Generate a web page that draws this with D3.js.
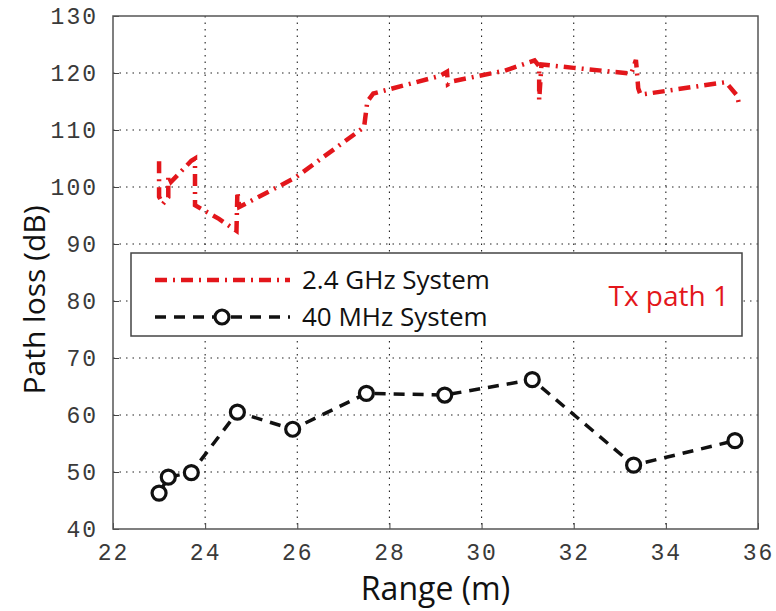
<!DOCTYPE html>
<html>
<head>
<meta charset="utf-8">
<script src="https://cdn.jsdelivr.net/npm/d3@7"></script>
<style>
  html, body { margin: 0; padding: 0; background: #fff; }
  svg { display: block; }
</style>
</head>
<body>
<svg id="chart" width="776" height="611"></svg>
<script>
// Tick values for both axes
const xTicks = [22, 24, 26, 28, 30, 32, 34, 36];
const yTicks = [40, 50, 60, 70, 80, 90, 100, 110, 120, 130];

// 2.4 GHz system: range (m) and path loss (dB), densely sampled trace
const ghzRange = [23.00, 23.00, 23.08, 23.20, 23.20, 23.26, 23.70, 23.78, 23.78, 24.30, 24.68, 24.70, 24.74,
                  25.95, 27.45, 27.52, 27.65, 29.10, 29.25, 29.27, 29.40, 30.50, 31.15, 31.25, 31.25, 31.30,
                  32.00, 33.25, 33.35, 33.37, 33.40, 33.45, 35.30, 35.55, 35.60];
const ghzLoss  = [104.5, 98.3, 97.0, 98.2, 102.0, 100.9, 104.6, 105.0, 96.8, 94.4, 92.3, 99.2, 96.5,
                  101.6, 110.5, 115.0, 116.4, 119.5, 120.2, 118.0, 118.6, 120.4, 122.2, 121.2, 115.3, 121.5,
                  120.9, 119.9, 122.3, 120.5, 117.3, 116.2, 118.4, 116.0, 114.0];

// 40 MHz system: measured points
const mhzRange = [23.0, 23.2, 23.7, 24.7, 25.9, 27.5, 29.2, 31.1, 33.3, 35.5];
const mhzLoss  = [46.3, 49.1, 49.9, 60.5, 57.5, 63.8, 63.5, 66.2, 51.2, 55.5];

const legendLabels = ["2.4 GHz System", "40 MHz System"];
const annotation = "Tx path 1";

const red = "#e3161b";
const tickFont = "'Liberation Mono', 'DejaVu Sans Mono', monospace";
const textFont = "'Open Sans', 'Noto Sans', sans-serif";

const svg = d3.select("#chart");
const margin = { left: 113, top: 16, right: 18, bottom: 82 };
const W = 776, H = 611;
const iw = W - margin.left - margin.right;
const ih = H - margin.top - margin.bottom;

const x = d3.scaleLinear().domain([22, 36]).range([0, iw]);
const y = d3.scaleLinear().domain([40, 130]).range([ih, 0]);

const g = svg.append("g").attr("transform", `translate(${margin.left},${margin.top})`);

// Dotted grid
g.append("g")
  .selectAll("line.vg")
  .data(xTicks.slice(1, -1))
  .join("line")
  .attr("x1", d => x(d)).attr("x2", d => x(d))
  .attr("y1", 0).attr("y2", ih)
  .attr("stroke", "#222").attr("stroke-width", 1.1)
  .attr("stroke-dasharray", "1.5,5");
g.append("g")
  .selectAll("line.hg")
  .data(yTicks.slice(1, -1))
  .join("line")
  .attr("x1", 0).attr("x2", iw)
  .attr("y1", d => y(d)).attr("y2", d => y(d))
  .attr("stroke", "#222").attr("stroke-width", 1.1)
  .attr("stroke-dasharray", "1.5,5");

// Axes with inward ticks
const xAxis = g.append("g").attr("transform", `translate(0,${ih})`)
  .call(d3.axisBottom(x).tickValues(xTicks).tickSizeInner(-6).tickSizeOuter(0).tickPadding(10));
const yAxis = g.append("g")
  .call(d3.axisLeft(y).tickValues(yTicks).tickSizeInner(-6).tickSizeOuter(0).tickPadding(15));
[xAxis, yAxis].forEach(a => {
  a.select(".domain").remove();
  a.selectAll(".tick line").attr("stroke", "#444");
  a.selectAll(".tick text")
    .attr("font-family", tickFont).attr("font-size", 23)
    .attr("letter-spacing", 2).attr("fill", "#3a3a3a");
});
xAxis.selectAll(".tick text").attr("dy", "0.9em");

// Frame
g.append("rect").attr("x", 0).attr("y", 0).attr("width", iw).attr("height", ih)
  .attr("fill", "none").attr("stroke", "#555").attr("stroke-width", 1.5);

// 2.4 GHz trace
const ghzData = ghzRange.map((r, i) => [r, ghzLoss[i]]);
g.append("path")
  .datum(ghzData)
  .attr("d", d3.line().x(d => x(d[0])).y(d => y(d[1])))
  .attr("fill", "none").attr("stroke", red).attr("stroke-width", 4.5)
  .attr("stroke-dasharray", "12,6,2,6");

// 40 MHz trace
const mhzData = mhzRange.map((r, i) => [r, mhzLoss[i]]);
g.append("path")
  .datum(mhzData)
  .attr("d", d3.line().x(d => x(d[0])).y(d => y(d[1])))
  .attr("fill", "none").attr("stroke", "#111").attr("stroke-width", 3.5)
  .attr("stroke-dasharray", "11,8");
g.append("g").selectAll("circle")
  .data(mhzData)
  .join("circle")
  .attr("cx", d => x(d[0])).attr("cy", d => y(d[1])).attr("r", 7)
  .attr("fill", "#fff").attr("stroke", "#111").attr("stroke-width", 3.2);

// Legend
const lg = svg.append("g");
lg.append("rect").attr("x", 131).attr("y", 253).attr("width", 611).attr("height", 83)
  .attr("fill", "#fff").attr("stroke", "#444").attr("stroke-width", 1.5);
const rows = [
  { label: legendLabels[0], yy: 280, color: red, dash: "12,6,2,6", w: 4.5, marker: false },
  { label: legendLabels[1], yy: 317, color: "#111", dash: "11,8", w: 3.5, marker: true }
];
rows.forEach(r => {
  lg.append("line").attr("x1", 155).attr("x2", 290).attr("y1", r.yy).attr("y2", r.yy)
    .attr("stroke", r.color).attr("stroke-width", r.w).attr("stroke-dasharray", r.dash);
  if (r.marker) {
    lg.append("circle").attr("cx", 222).attr("cy", r.yy).attr("r", 7)
      .attr("fill", "#fff").attr("stroke", "#111").attr("stroke-width", 3.2);
  }
  lg.append("text").attr("x", 302).attr("y", r.yy + 9)
    .attr("font-family", textFont).attr("font-size", 26).attr("fill", "#111")
    .text(r.label);
});
lg.append("text").attr("x", 729).attr("y", 306).attr("text-anchor", "end")
  .attr("font-family", textFont).attr("font-size", 28).attr("fill", red)
  .text(annotation);

// Axis titles
svg.append("text").attr("x", margin.left + iw / 2).attr("y", 600).attr("text-anchor", "middle")
  .attr("font-family", textFont).attr("font-size", 32).attr("fill", "#111")
  .text("Range (m)");
svg.append("text").attr("transform", `translate(45,300) rotate(-90)`)
  .attr("text-anchor", "middle")
  .attr("font-family", textFont).attr("font-size", 30).attr("fill", "#111")
  .text("Path loss (dB)");
</script>
</body>
</html>
